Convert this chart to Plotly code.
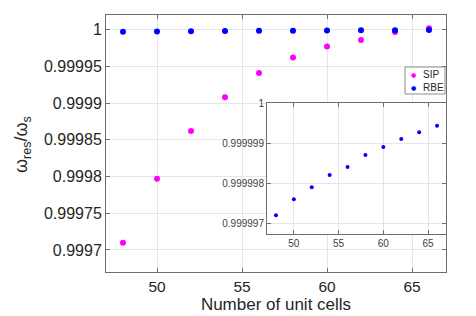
import plotly.graph_objects as go

cells = [48, 50, 52, 54, 56, 58, 60, 62, 64, 66]
sip = [0.999710, 0.999797, 0.999862, 0.999908, 0.999941, 0.999962, 0.999977, 0.999986, 0.999997, 1.0000018]
rbe = [0.9999972, 0.9999976, 0.9999979, 0.9999982, 0.9999984, 0.9999987, 0.9999989, 0.9999991, 0.99999927, 0.99999943]
series_names = ["SIP", "RBE"]
series_colors = ["#ff00ff", "#0000ff"]

main_yticks = [0.9997, 0.99975, 0.9998, 0.99985, 0.9999, 0.99995, 1.0]
main_yticktext = ["0.9997", "0.99975", "0.9998", "0.99985", "0.9999", "0.99995", "1"]
inset_yticks = [0.999997, 0.999998, 0.999999, 1.0]
inset_yticktext = ["0.999997", "0.999998", "0.999999", "1"]
xticks = [50, 55, 60, 65]

W, H = 476, 316
def px_x(p):
    return p / W
def px_y(p):
    return 1 - p / H

FONT = "Liberation Sans, Arial, sans-serif"
TXT = "#262626"
LINE = "#6e6e6e"
GRID = "#e6e6e6"

fig = go.Figure()
fig.add_trace(go.Scatter(x=cells, y=sip, mode="markers", name=series_names[0], showlegend=False,
                         marker=dict(color=series_colors[0], size=6), xaxis="x", yaxis="y"))
fig.add_trace(go.Scatter(x=cells, y=rbe, mode="markers", name=series_names[1], showlegend=False,
                         marker=dict(color=series_colors[1], size=6), xaxis="x", yaxis="y"))
fig.add_trace(go.Scatter(x=cells, y=rbe, mode="markers", name=series_names[1], showlegend=False,
                         marker=dict(color=series_colors[1], size=4), xaxis="x2", yaxis="y2"))

axcommon = dict(showline=True, linecolor=LINE, linewidth=1, mirror="ticks",
                ticks="inside", ticklen=4, tickcolor=LINE, showgrid=True,
                gridcolor=GRID, gridwidth=1, zeroline=False, automargin=False)

fig.update_layout(
    width=W, height=H, margin=dict(l=0, r=0, t=0, b=0),
    paper_bgcolor="white", plot_bgcolor="white",
    font=dict(family=FONT, color=TXT),
    showlegend=False,
    xaxis=dict(domain=[px_x(98), px_x(438)], range=[47, 67], tickvals=xticks,
               tickfont=dict(size=15.5, color=TXT), anchor="y",
               title=dict(text="Number of unit cells", font=dict(size=17, color=TXT), standoff=4),
               **axcommon),
    yaxis=dict(domain=[px_y(264), px_y(7)], range=[0.99967, 1.00002],
               tickvals=main_yticks, ticktext=main_yticktext, anchor="x",
               tickfont=dict(size=16, color=TXT), **axcommon),
    xaxis2=dict(domain=[px_x(259), px_x(438)], range=[47, 67], tickvals=xticks,
                tickfont=dict(size=10, color="#404040"), anchor="y2", **axcommon),
    yaxis2=dict(domain=[px_y(226), px_y(95)], range=[0.99999673, 1.0],
                tickvals=inset_yticks, ticktext=inset_yticktext, anchor="x2",
                tickfont=dict(size=10, color="#404040"), **axcommon),
)

# y-axis title
fig.add_annotation(text="ω<sub>res</sub>/ω<sub>s</sub>", textangle=-90,
                   xref="paper", yref="paper", x=px_x(14), y=px_y(137),
                   xanchor="center", yanchor="middle", showarrow=False,
                   font=dict(size=18, color=TXT, family=FONT))

# compact legend box (MATLAB-style)
fig.add_shape(type="rect", xref="paper", yref="paper",
              x0=px_x(397), x1=px_x(437), y0=px_y(86), y1=px_y(59),
              line=dict(color="#8c8c8c", width=1), fillcolor="white", layer="above")
for i, (nm, col) in enumerate(zip(series_names, series_colors)):
    yc = px_y(66.5 + 12.5 * i)
    fig.add_annotation(text="●", xref="paper", yref="paper", x=px_x(405.5), y=yc,
                       xanchor="center", yanchor="middle", showarrow=False,
                       font=dict(size=6, color=col, family="DejaVu Sans"))
    fig.add_annotation(text=nm, xref="paper", yref="paper", x=px_x(413), y=yc,
                       xanchor="left", yanchor="middle", showarrow=False,
                       font=dict(size=10, color=TXT, family=FONT))

fig.write_html("out.html")
